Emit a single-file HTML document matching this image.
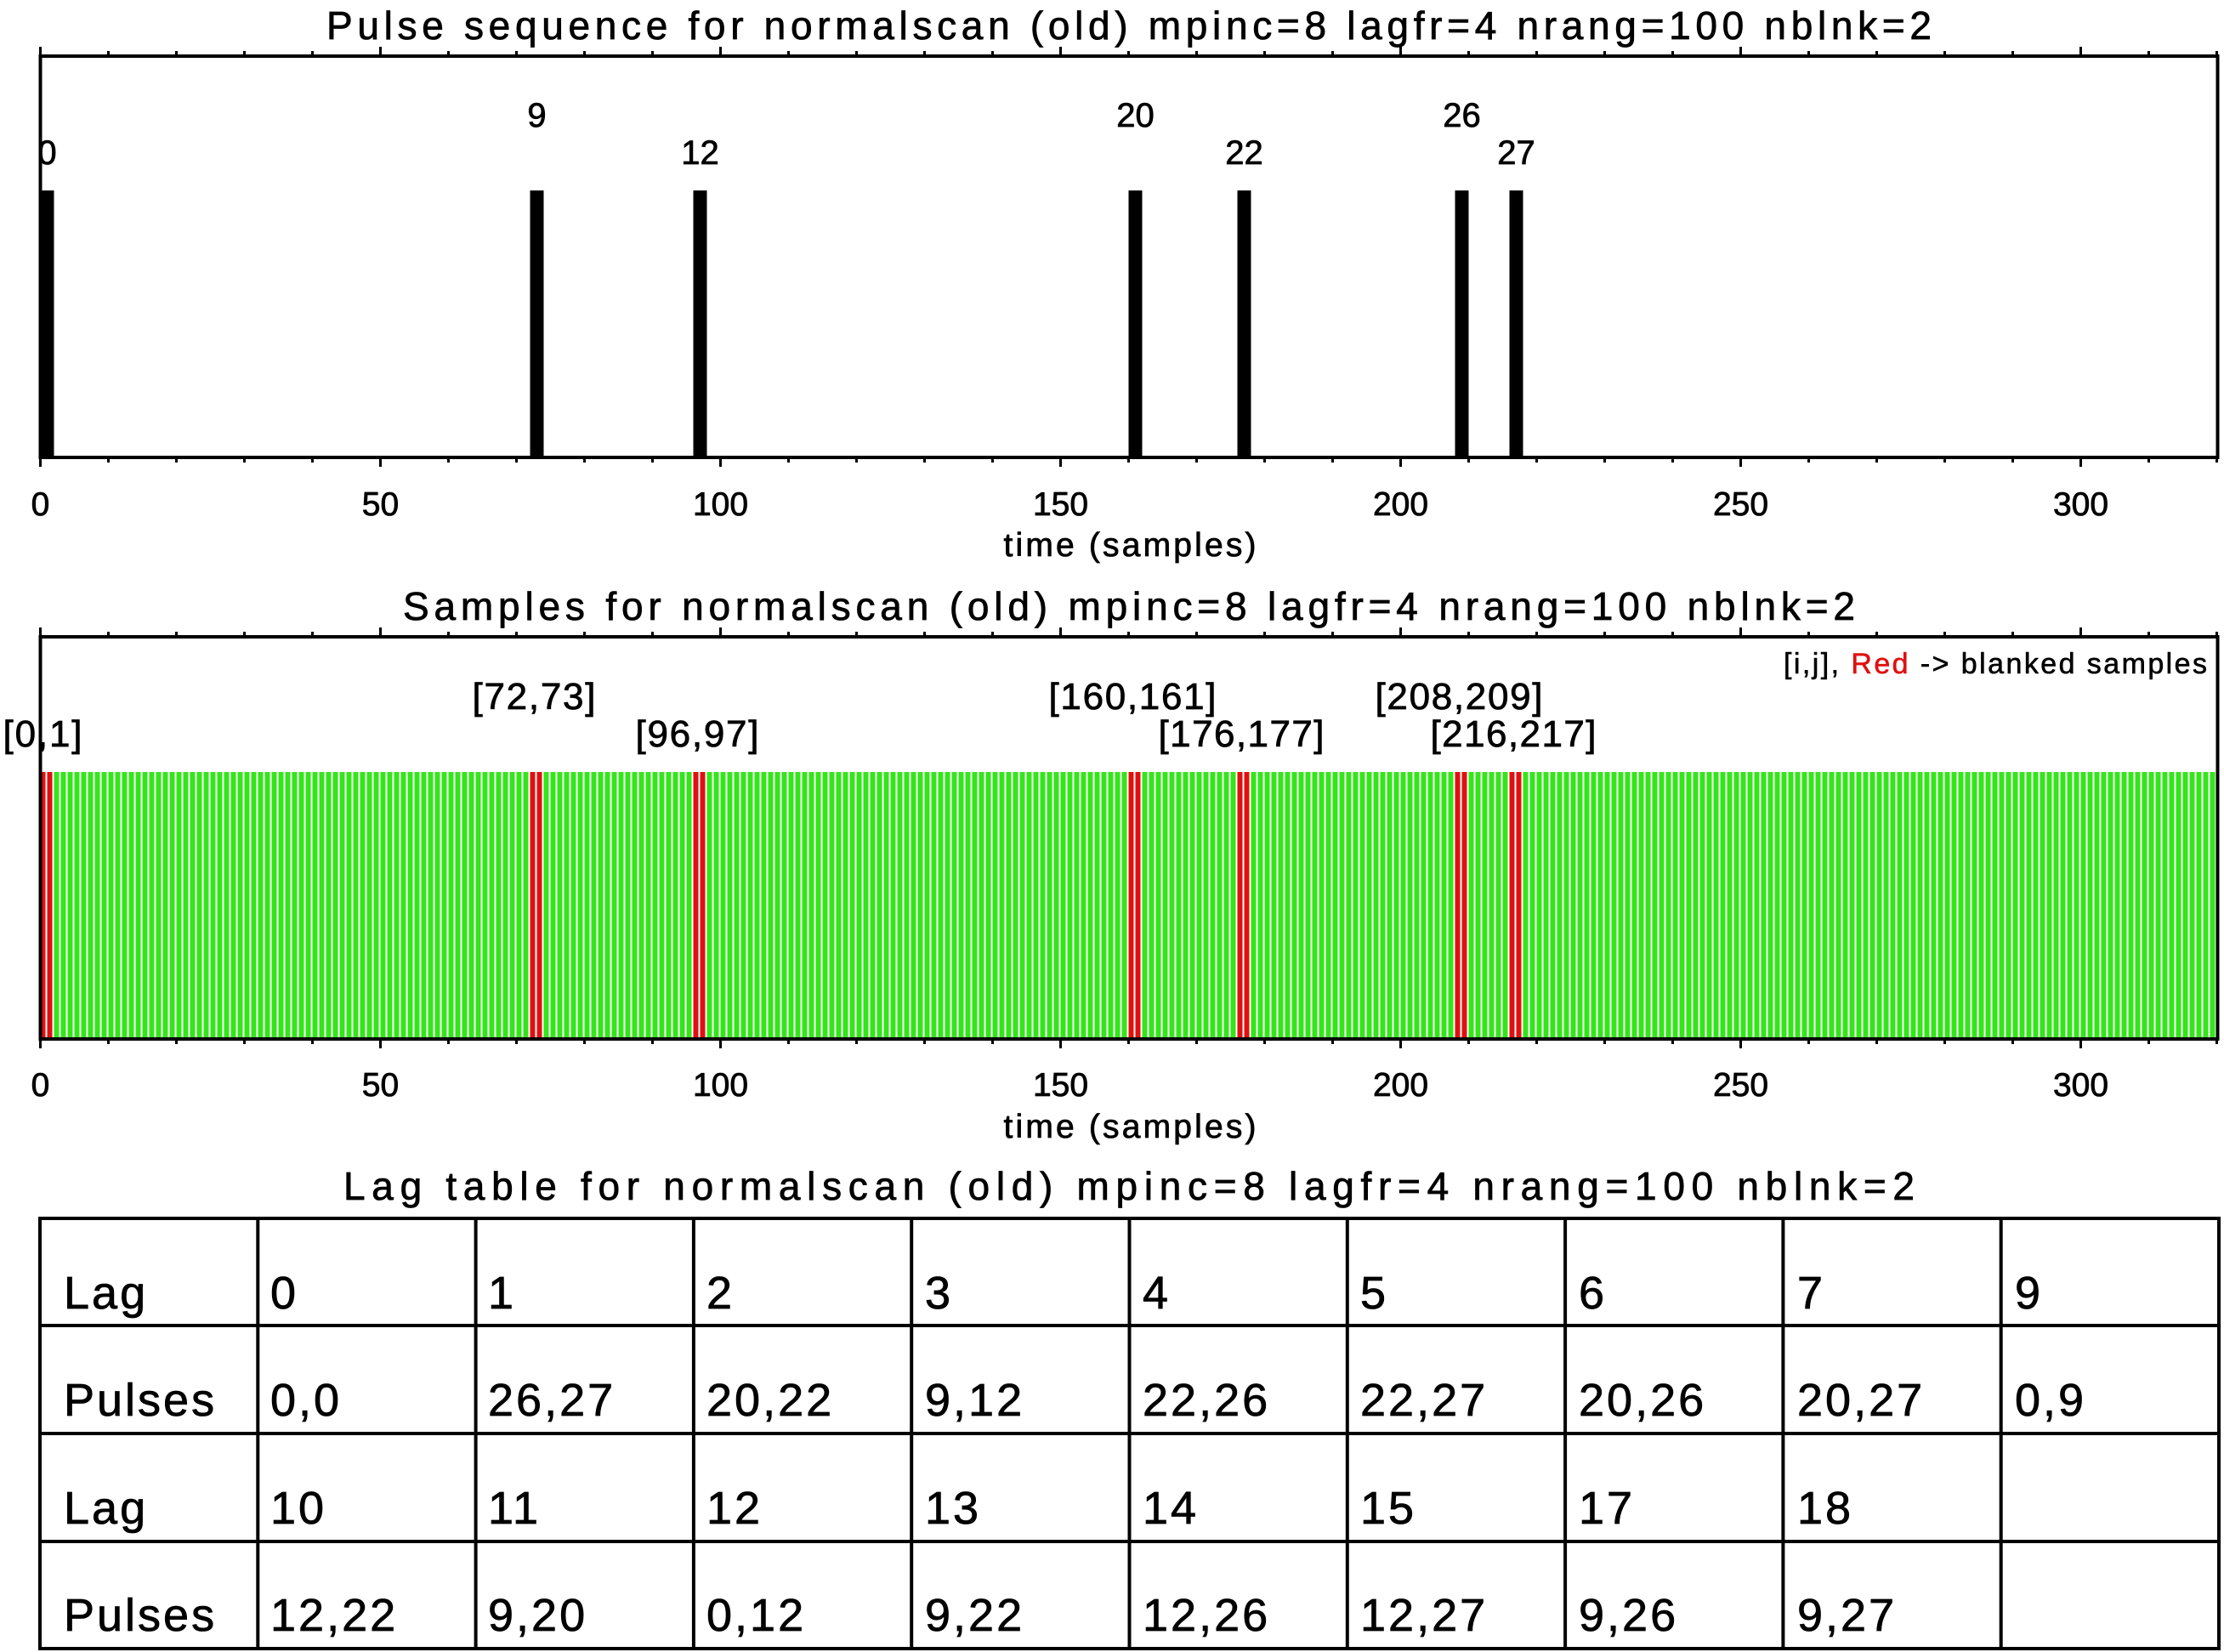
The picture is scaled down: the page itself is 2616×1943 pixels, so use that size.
<!DOCTYPE html>
<html><head><meta charset="utf-8"><style>html,body{margin:0;padding:0;background:#fff}svg{display:block}</style></head>
<body>
<svg id="s" xmlns="http://www.w3.org/2000/svg" width="2616" height="1943" viewBox="0 0 2616 1943" font-family="Liberation Sans, sans-serif" fill="#000">
<defs>
<pattern id="gp" patternUnits="userSpaceOnUse" x="47.5" y="0" width="8" height="10"><rect x="0" y="0" width="6" height="10" fill="#33e61a"/></pattern>
</defs>
<g stroke="#000" stroke-width="0.8">
<text x="1328" y="46" font-size="46" text-anchor="middle" textLength="1888" lengthAdjust="spacing">Pulse sequence for normalscan (old) mpinc=8 lagfr=4 nrang=100 nblnk=2</text>
<text x="1328" y="729" font-size="46" text-anchor="middle" textLength="1708" lengthAdjust="spacing">Samples for normalscan (old) mpinc=8 lagfr=4 nrang=100 nblnk=2</text>
<text x="1328" y="1411" font-size="46" text-anchor="middle" textLength="1848" lengthAdjust="spacing">Lag table for normalscan (old) mpinc=8 lagfr=4 nrang=100 nblnk=2</text>
</g>

<!-- plot 1 -->
<g id="bars"></g>
<rect x="47.5" y="66" width="2561" height="472" fill="none" stroke="#000" stroke-width="4"/>
<g font-size="40" text-anchor="middle" stroke="#000" stroke-width="0.8">
<text x="55.5" y="193">0</text>
<text x="631.5" y="149">9</text>
<text x="823.5" y="193">12</text>
<text x="1335.5" y="149">20</text>
<text x="1463.5" y="193">22</text>
<text x="1719.5" y="149">26</text>
<text x="1783.5" y="193">27</text>
</g>
<g font-size="39" text-anchor="middle" stroke="#000" stroke-width="0.8">
<text x="47.5" y="606">0</text><text x="447.5" y="606">50</text><text x="847.5" y="606">100</text><text x="1247.5" y="606">150</text><text x="1647.5" y="606">200</text><text x="2047.5" y="606">250</text><text x="2447.5" y="606">300</text>
<text x="1329" y="654" textLength="297" lengthAdjust="spacing">time (samples)</text>
</g>

<!-- plot 2 -->
<rect x="47.5" y="908" width="2561" height="314" fill="url(#gp)"/>
<g id="reds" fill="#e01010"></g>
<rect x="47.5" y="749" width="2561" height="473" fill="none" stroke="#000" stroke-width="4"/>
<g font-size="44" text-anchor="middle" stroke="#000" stroke-width="0.8" lengthAdjust="spacing">
<text x="50" y="878" textLength="93">[0,1]</text>
<text x="628" y="834" textLength="145">[72,73]</text>
<text x="820" y="878" textLength="145">[96,97]</text>
<text x="1332" y="834" textLength="197">[160,161]</text>
<text x="1460" y="878" textLength="195">[176,177]</text>
<text x="1716" y="834" textLength="197">[208,209]</text>
<text x="1780" y="878" textLength="195">[216,217]</text>
</g>
<text x="2596" y="792" font-size="34" text-anchor="end" stroke="#000" stroke-width="0.6" textLength="498" lengthAdjust="spacing">[i,j], <tspan fill="#e01010" stroke="#e01010">Red</tspan> -&gt; blanked samples</text>
<g font-size="39" text-anchor="middle" stroke="#000" stroke-width="0.8">
<text x="47.5" y="1289">0</text><text x="447.5" y="1289">50</text><text x="847.5" y="1289">100</text><text x="1247.5" y="1289">150</text><text x="1647.5" y="1289">200</text><text x="2047.5" y="1289">250</text><text x="2447.5" y="1289">300</text>
<text x="1329" y="1338" textLength="297" lengthAdjust="spacing">time (samples)</text>
</g>
<g id="ticks" stroke="#000" stroke-width="3"></g>

<!-- table -->
<g id="grid" stroke="#000" stroke-width="4"></g>
<g font-size="54" letter-spacing="3" stroke="#000" stroke-width="0.8">
<text x="75" y="1539">Lag</text><text x="318" y="1539">0</text><text x="574" y="1539">1</text><text x="831" y="1539">2</text><text x="1088" y="1539">3</text><text x="1344" y="1539">4</text><text x="1600" y="1539">5</text><text x="1857" y="1539">6</text><text x="2114" y="1539">7</text><text x="2370" y="1539">9</text>
<text x="75" y="1665">Pulses</text><text x="318" y="1665">0,0</text><text x="574" y="1665">26,27</text><text x="831" y="1665">20,22</text><text x="1088" y="1665">9,12</text><text x="1344" y="1665">22,26</text><text x="1600" y="1665">22,27</text><text x="1857" y="1665">20,26</text><text x="2114" y="1665">20,27</text><text x="2370" y="1665">0,9</text>
<text x="75" y="1792">Lag</text><text x="318" y="1792">10</text><text x="574" y="1792">11</text><text x="831" y="1792">12</text><text x="1088" y="1792">13</text><text x="1344" y="1792">14</text><text x="1600" y="1792">15</text><text x="1857" y="1792">17</text><text x="2114" y="1792">18</text>
<text x="75" y="1918">Pulses</text><text x="318" y="1918">12,22</text><text x="574" y="1918">9,20</text><text x="831" y="1918">0,12</text><text x="1088" y="1918">9,22</text><text x="1344" y="1918">12,26</text><text x="1600" y="1918">12,27</text><text x="1857" y="1918">9,26</text><text x="2114" y="1918">9,27</text>
</g>
<script>
(function(){
var NS="http://www.w3.org/2000/svg";
function el(p,t,a){var e=document.createElementNS(NS,t);for(var k in a)e.setAttribute(k,a[k]);p.appendChild(e);return e;}
var pulses=[0,72,96,160,176,208,216];
var b=document.getElementById('bars'),r=document.getElementById('reds');
pulses.forEach(function(s){
 el(b,'rect',{x:47.5+s*8,y:224,width:16,height:314});
 el(r,'rect',{x:47.5+s*8,y:908,width:6,height:314});
 el(r,'rect',{x:47.5+(s+1)*8,y:908,width:6,height:314});
});
var t=document.getElementById('ticks');
[[66,538],[749,1222]].forEach(function(yy){
 for(var v=0;v<=320;v+=10){
  var x=47.5+v*8,L=(v%50==0)?11:6;
  el(t,'line',{x1:x,y1:yy[0],x2:x,y2:yy[0]-L});
  el(t,'line',{x1:x,y1:yy[1],x2:x,y2:yy[1]+L});
 }
});
var g=document.getElementById('grid');
var rows=[1433,1559,1686,1813,1939];
rows.forEach(function(y){el(g,'line',{x1:45,y1:y,x2:2612,y2:y});});
for(var i=0;i<=10;i++){var x=47+i*256.3;el(g,'line',{x1:x,y1:1431,x2:x,y2:1941});}
})();
</script>
</svg>
</body></html>
